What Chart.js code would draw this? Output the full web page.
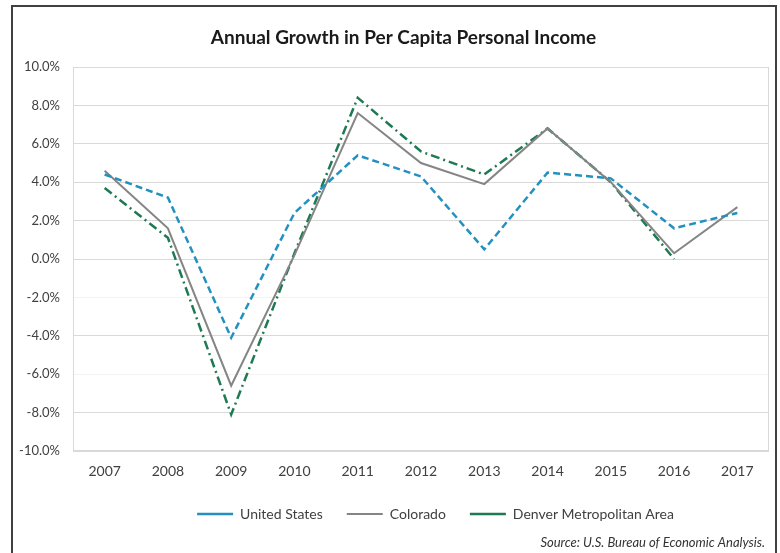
<!DOCTYPE html>
<html>
<head>
<meta charset="utf-8">
<script src="https://cdn.jsdelivr.net/npm/chart.js@4/dist/chart.umd.min.js"></script>
<style>
  html, body { margin: 0; padding: 0; background: #ffffff; }
  #wrap { width: 780px; height: 553px; position: relative; }
</style>
</head>
<body>
<div id="wrap"><canvas id="growth" width="780" height="553"></canvas></div>
<script>
// Annual growth in per capita personal income, percent
const years = ['2007', '2008', '2009', '2010', '2011', '2012', '2013', '2014', '2015', '2016', '2017'];
const unitedStates = [4.4, 3.2, -4.1, 2.4, 5.4, 4.3, 0.5, 4.5, 4.2, 1.6, 2.4];
const colorado     = [4.6, 1.6, -6.6, 0.2, 7.6, 5.0, 3.9, 6.8, 4.0, 0.3, 2.7];
const denverMetro  = [3.7, 1.1, -8.1, 0.3, 8.4, 5.6, 4.4, 6.8, 4.0, 0.0, null];
const yTickValues  = [-10, -8, -6, -4, -2, 0, 2, 4, 6, 8, 10];

const FONT = "Lato, 'Open Sans', sans-serif";

// white page, dark outer frame, light plot-area border and the source note
const framePlugin = {
  id: 'frame',
  beforeDraw(chart) {
    const ctx = chart.ctx;
    ctx.save();
    ctx.fillStyle = '#ffffff';
    ctx.fillRect(0, 0, chart.width, chart.height);
    ctx.restore();
  },
  afterLayout(chart) {
    // title and legend rows sit a little right of centre
    if (chart.titleBlock) {
      chart.titleBlock.left += 13;
      chart.titleBlock.right += 13;
    }
    if (chart.legend) {
      chart.legend.left += 45;
      chart.legend.right += 45;
    }
  },
  beforeDatasetsDraw(chart) {
    const { ctx, chartArea: a } = chart;
    ctx.save();
    ctx.strokeStyle = '#d9d9d9';
    ctx.lineWidth = 1;
    ctx.strokeRect(a.left + 0.5, a.top + 0.5, a.right - a.left - 1, a.bottom - a.top - 1);
    ctx.restore();
  },
  afterDraw(chart) {
    const ctx = chart.ctx;
    ctx.save();
    ctx.strokeStyle = '#404040';
    ctx.lineWidth = 2;
    ctx.strokeRect(12, 6, 764, 560);
    ctx.fillStyle = '#333333';
    ctx.font = "italic 13px " + FONT;
    ctx.textAlign = 'right';
    ctx.textBaseline = 'middle';
    ctx.fillText('Source: U.S. Bureau of Economic Analysis.', 765, 543);
    ctx.restore();
  }
};

new Chart(document.getElementById('growth'), {
  type: 'line',
  data: {
    labels: years,
    datasets: [
      {
        label: 'United States',
        data: unitedStates,
        borderColor: '#2391bf',
        backgroundColor: '#2391bf',
        borderWidth: 2.5,
        borderDash: [7, 4],
        pointRadius: 0,
        tension: 0
      },
      {
        label: 'Colorado',
        data: colorado,
        borderColor: '#858585',
        backgroundColor: '#858585',
        borderWidth: 2,
        pointRadius: 0,
        tension: 0
      },
      {
        label: 'Denver Metropolitan Area',
        data: denverMetro,
        borderColor: '#1d7a52',
        backgroundColor: '#1d7a52',
        borderWidth: 2.5,
        borderDash: [9, 4, 2, 4],
        pointRadius: 0,
        tension: 0
      }
    ]
  },
  options: {
    responsive: false,
    animation: false,
    devicePixelRatio: 1,
    layout: { padding: { left: 12, right: 11, top: 0, bottom: 22 } },
    plugins: {
      title: {
        display: true,
        text: 'Annual Growth in Per Capita Personal Income',
        color: '#1a1a1a',
        font: { family: FONT, size: 19, weight: 'bold' },
        padding: { top: 26.6, bottom: 17.6 }
      },
      legend: {
        position: 'bottom',
        labels: {
          usePointStyle: true,
          pointStyle: 'line',
          pointStyleWidth: 36,
          padding: 24,
          color: '#404040',
          font: { family: FONT, size: 14 }
        }
      },
      tooltip: { enabled: false }
    },
    scales: {
      x: {
        offset: true,
        grid: { display: false, drawTicks: false },
        border: { display: false },
        ticks: { padding: 12, color: '#404040', font: { family: FONT, size: 14 } },
        afterFit(scale) { scale.height = 32; }
      },
      y: {
        min: -10,
        max: 10,
        afterBuildTicks(scale) { scale.ticks = yTickValues.map(v => ({ value: v })); },
        grid: {
          drawTicks: false,
          color: (c) => (c.tick && (c.tick.value === -2 || c.tick.value === -6)) ? '#f3f3f3' : '#d9d9d9'
        },
        border: { display: false },
        ticks: {
          padding: 13,
          color: '#404040',
          font: { family: FONT, size: 13 },
          callback: (v) => Number(v).toFixed(1) + '%'
        },
        afterFit(scale) { scale.width = 61; }
      }
    }
  },
  plugins: [framePlugin]
});
</script>
</body>
</html>
